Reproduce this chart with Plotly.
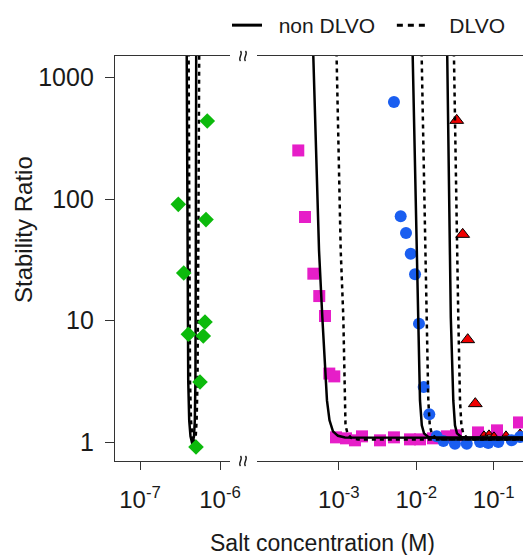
import plotly.graph_objects as go

# ---------------------------------------------------------------
# Stability ratio W versus salt concentration (mol/L)
# ---------------------------------------------------------------

# Low-concentration (multivalent) series, left panel
green_c = [6.93e-7, 3.01e-7, 6.68e-7, 3.52e-7, 6.49e-7, 4.02e-7, 6.18e-7, 5.62e-7, 5.01e-7]
green_w = [438, 90.4, 67.7, 24.6, 9.72, 7.70, 7.46, 3.12, 0.91]

# Right panel series
pink_c = [2.99e-4, 3.65e-4, 4.68e-4, 5.58e-4, 6.62e-4, 7.52e-4, 8.73e-4,
          9.18e-4, 1.236e-3, 1.614e-3, 1.99e-3, 3.40e-3, 5.15e-3, 8.30e-3,
          1.117e-2, 1.644e-2, 2.49e-2, 3.26e-2, 6.27e-2, 0.1104, 0.2123]
pink_w = [251, 71.1, 24.3, 15.9, 10.9, 3.66, 3.47,
          1.093, 1.073, 1.033, 1.114, 1.033, 1.093, 1.052,
          1.052, 1.073, 1.114, 1.135, 1.20, 1.248, 1.45]

blue_c = [5.15e-3, 6.29e-3, 7.37e-3, 8.48e-3, 9.64e-3, 1.084e-2, 1.248e-2, 1.473e-2,
          1.836e-2, 2.24e-2, 3.16e-2, 4.49e-2, 6.67e-2, 8.52e-2, 0.1148, 0.171, 0.2188]
blue_w = [629, 72.0, 52.5, 35.5, 24.0, 9.43, 2.84, 1.69,
          1.114, 1.019, 0.970, 0.970, 1.0, 0.981, 1.0, 1.033, 1.099]

red_c = [3.33e-2, 3.98e-2, 4.62e-2, 5.79e-2, 7.50e-2, 8.70e-2, 0.1009, 0.1443, 0.2194]
red_w = [444, 51.2, 6.96, 2.07, 1.157, 1.179, 1.135, 1.157, 1.20]

# Model curves (non DLVO = solid, DLVO = dashed)
curve_w_u = [1607, 37.8, 3.22, 1.509, 1.114, 0.966, 1.114, 1.509, 3.22, 37.8, 1607]
green_nondlvo_c = [3.835e-7, 3.902e-7, 4.005e-7, 4.121e-7, 4.278e-7, 4.505e-7,
                   4.732e-7, 4.842e-7, 4.927e-7, 4.984e-7, 5.041e-7]
green_dlvo_c = [4.051e-7, 4.121e-7, 4.217e-7, 4.340e-7, 4.505e-7, 4.732e-7,
                4.970e-7, 5.100e-7, 5.234e-7, 5.356e-7, 5.495e-7]

solid_w = [1607, 37.8, 10.7, 2.20, 1.509, 1.225, 1.125, 1.089, 1.083]
pink_nondlvo_c = [4.66e-4, 5.54e-4, 6.11e-4, 7.02e-4, 7.57e-4, 8.39e-4, 9.74e-4, 1.2e-3, 0.2393]
dashed_w = [1607, 37.8, 10.7, 2.20, 1.372, 1.179, 1.083, 1.047, 1.047]
pink_dlvo_c = [9.32e-4, 1.056e-3, 1.141e-3, 1.182e-3, 1.218e-3, 1.292e-3, 1.434e-3, 1.767e-3, 0.2393]

solid_w2 = [1607, 37.8, 10.7, 2.20, 1.372, 1.179, 1.099, 1.083, 1.083]
blue_nondlvo_c = [8.97e-3, 1.013e-2, 1.062e-2, 1.117e-2, 1.179e-2, 1.259e-2, 1.43e-2, 1.799e-2, 0.2393]
blue_dlvo_c = [1.172e-2, 1.297e-2, 1.364e-2, 1.43e-2, 1.495e-2, 1.582e-2, 1.772e-2, 2.15e-2, 0.2393]
red_nondlvo_c = [2.509e-2, 2.728e-2, 2.793e-2, 3.009e-2, 3.164e-2, 3.357e-2, 3.84e-2, 4.66e-2, 0.2393]
red_dlvo_c = [3.063e-2, 3.329e-2, 3.49e-2, 3.673e-2, 3.828e-2, 4.05e-2, 4.52e-2, 5.57e-2, 0.2393]

x1_ticks = [1e-7, 1e-6]
x1_text = ["10<sup>-7</sup>", "10<sup>-6</sup>"]
x2_ticks = [1e-3, 1e-2, 1e-1]
x2_text = ["10<sup>-3</sup>", "10<sup>-2</sup>", "10<sup>-1</sup>"]
y_ticks = [1, 10, 100, 1000]
y_text = ["1", "10", "100", "1000"]

# ---------------------------------------------------------------
FONT = "Liberation Sans, Arial, sans-serif"
INK = "#1a1a1a"
AXIS = "#333333"
FIG_W, FIG_H = 523, 555
M_L, M_R, M_T, M_B = 115, 0, 56, 94
PW, PH = FIG_W - M_L - M_R, FIG_H - M_T - M_B


def to_paper(px, py):
    return (px - M_L) / PW, (FIG_H - M_B - py) / PH


GREEN, PINK, BLUE, RED = "#0cba0c", "#e61ec8", "#1a5ef0", "#f00000"
LW = 2.5
DASH = "4px,4px"

fig = go.Figure()

# markers of the right panel
fig.add_trace(go.Scatter(x=pink_c, y=pink_w, xaxis="x2", yaxis="y2", mode="markers",
                         marker=dict(symbol="square", size=12, color=PINK, opacity=1),
                         showlegend=False))
fig.add_trace(go.Scatter(x=red_c, y=red_w, xaxis="x2", yaxis="y2", mode="markers",
                         marker=dict(symbol="triangle-up", color=RED, opacity=1,
                                     size=[12 if w > 1.5 else 7 for w in red_w],
                                     line=dict(color="black", width=1)),
                         showlegend=False))
fig.add_trace(go.Scatter(x=blue_c, y=blue_w, xaxis="x2", yaxis="y2", mode="markers",
                         marker=dict(symbol="circle", size=12, color=BLUE, opacity=1),
                         showlegend=False))

# model curves
fig.add_trace(go.Scatter(x=green_nondlvo_c, y=curve_w_u, mode="lines",
                         line=dict(color="black", width=LW), showlegend=False))
fig.add_trace(go.Scatter(x=green_dlvo_c, y=curve_w_u, mode="lines",
                         line=dict(color="black", width=LW, dash=DASH), showlegend=False))
right_curves = [
    (pink_nondlvo_c, solid_w, False),
    (pink_dlvo_c, dashed_w, True),
    (blue_nondlvo_c, solid_w2, False),
    (blue_dlvo_c, dashed_w, True),
    (red_nondlvo_c, solid_w2, False),
    (red_dlvo_c, dashed_w, True),
]
for cx, cw, dashed in right_curves:
    fig.add_trace(go.Scatter(x=cx, y=cw, xaxis="x2", yaxis="y2", mode="lines",
                             line=dict(color="black", width=LW, dash=DASH if dashed else "solid"),
                             showlegend=False))

# legend entries for the two model types
fig.add_trace(go.Scatter(x=[None], y=[None], mode="lines",
                         line=dict(color="black", width=3),
                         name="\u00a0\u00a0non DLVO\u00a0\u00a0"))
fig.add_trace(go.Scatter(x=[None], y=[None], mode="lines",
                         line=dict(color="black", width=3, dash="6px,5px"),
                         name="\u00a0\u00a0\u00a0DLVO"))

# left panel markers
fig.add_trace(go.Scatter(x=green_c, y=green_w, mode="markers",
                         marker=dict(symbol="diamond", size=12, color=GREEN, opacity=1),
                         showlegend=False))

axis_common = dict(type="log", showgrid=False, zeroline=False, showline=True,
                   linecolor=AXIS, linewidth=1.3, ticks="outside", ticklen=8,
                   tickwidth=1.3, tickcolor=AXIS,
                   tickfont=dict(family=FONT, size=24, color=INK))

fig.update_layout(
    width=FIG_W, height=FIG_H,
    margin=dict(l=M_L, r=M_R, t=M_T, b=M_B, autoexpand=False),
    paper_bgcolor="white", plot_bgcolor="white",
    font=dict(family=FONT, color=INK),
    xaxis=dict(axis_common, domain=[0, 0.2819], range=[-7.3125, -5.875], mirror=True,
               tickmode="array", tickvals=x1_ticks, ticktext=x1_text, anchor="y",
               ticklabelstandoff=9),
    xaxis2=dict(axis_common, domain=[0.348, 1], range=[-4.058, -0.621], mirror=True,
                tickmode="array", tickvals=x2_ticks, ticktext=x2_text, anchor="y2",
                ticklabelstandoff=9),
    yaxis=dict(axis_common, range=[-0.156, 3.177], tickmode="array",
               tickvals=y_ticks, ticktext=y_text, ticklen=9, anchor="x",
               ticklabelstandoff=6,
               tickfont=dict(family=FONT, size=25, color=INK)),
    yaxis2=dict(type="log", matches="y", range=[-0.156, 3.177], anchor="x2",
                showline=False, showgrid=False, zeroline=False, showticklabels=False,
                ticks=""),
    legend=dict(orientation="h", x=to_paper(227, 0)[0], xanchor="left",
                y=to_paper(0, 5)[1], yanchor="top",
                font=dict(family=FONT, size=21, color=INK),
                bgcolor="rgba(0,0,0,0)", itemwidth=30, tracegroupgap=0),
)

# axis titles
tx, ty = to_paper(322, 543)
fig.add_annotation(text="Salt concentration (M)", x=tx, y=ty, xref="paper", yref="paper",
                   showarrow=False, xanchor="center", yanchor="middle",
                   font=dict(family=FONT, size=23, color=INK))
tx, ty = to_paper(24, 230)
fig.add_annotation(text="Stability Ratio", x=tx, y=ty, xref="paper", yref="paper",
                   showarrow=False, xanchor="center", yanchor="middle", textangle=-90,
                   font=dict(family=FONT, size=24, color=INK))

# axis-break marks on the top and bottom frame lines
for yc in (M_T, FIG_H - M_B):
    for x0 in (240.5, 245.5):
        pts = [to_paper(x0, yc - 5), to_paper(x0 + 3, yc - 2),
               to_paper(x0 - 3, yc + 2), to_paper(x0, yc + 5)]
        path = "M{:.5f},{:.5f} C{:.5f},{:.5f} {:.5f},{:.5f} {:.5f},{:.5f}".format(
            *[v for p in pts for v in p])
        fig.add_shape(type="path", path=path, xref="paper", yref="paper",
                      line=dict(color=INK, width=1.4))

fig.write_html("out.html")
